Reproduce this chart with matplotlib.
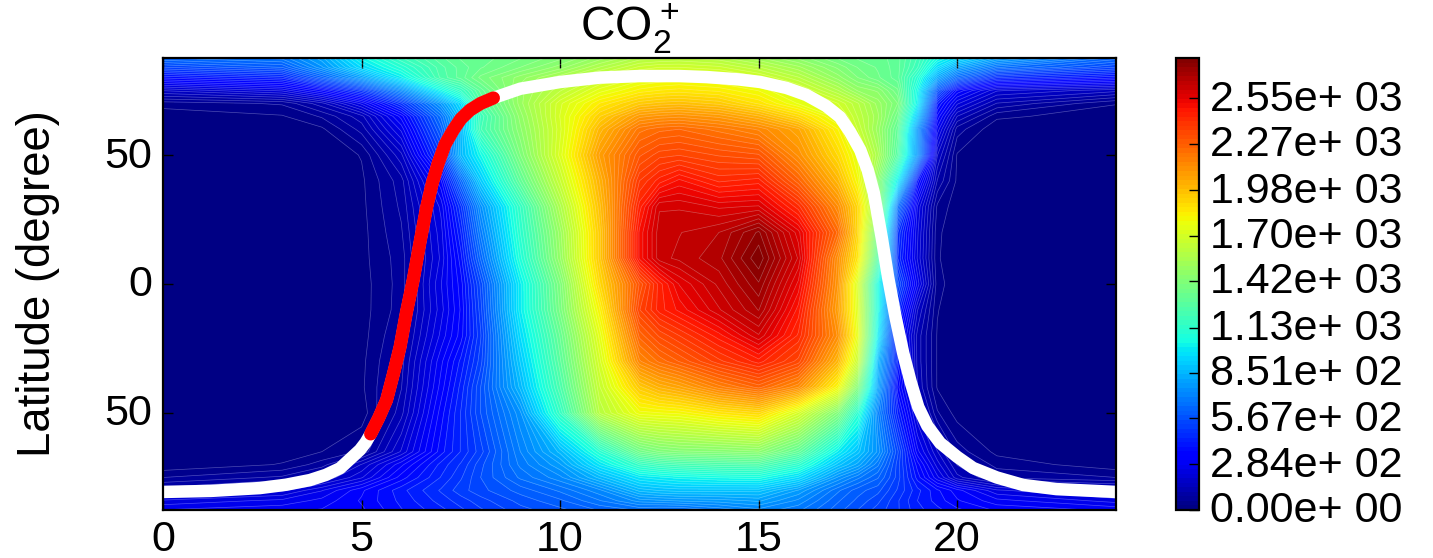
import numpy as np
import matplotlib
matplotlib.use("Agg")
import matplotlib.pyplot as plt
from matplotlib.transforms import ScaledTranslation

plt.rcParams['font.family'] = ['Liberation Sans', 'DejaVu Sans']
plt.rcParams['mathtext.fontset'] = 'custom'
plt.rcParams['mathtext.rm'] = 'Liberation Sans'
plt.rcParams['mathtext.default'] = 'regular'

hours = [0,3,4,5,6,7,7.5,8,9,10,11,12,12.5,13,14,15,16,17,17.5,18,18.5,19,19.5,20,21,24]
lats = [-87.5,-84,-80,-75,-70,-65,-50,-40,-30,-20,-10,0,10,20,30,40,50,60,65,70,75,80,84,87.5]
density = [
 [280,300,310,330,390,440,470,500,550,580,620,650,640,640,680,720,680,600,560,520,480,430,400,370,330,300],
 [230,260,290,340,400,460,490,520,570,610,670,740,750,760,770,790,720,620,580,540,480,420,380,340,290,240],
 [130,190,250,330,410,480,520,550,600,650,720,850,870,880,880,880,780,650,600,570,500,430,370,320,230,170],
 [56,90,140,220,350,450,500,560,650,720,850,980,1000,1020,1040,1050,950,750,680,620,520,380,260,150,80,56],
 [5,30,70,170,300,430,480,550,680,780,980,1150,1190,1210,1230,1240,1120,880,800,680,520,350,210,110,45,10],
 [5,15,28,60,200,380,450,520,700,850,1100,1350,1400,1420,1430,1450,1300,1000,880,750,540,290,170,70,20,5],
 [0,0,0,10,130,350,450,560,750,1150,1600,1780,1790,1800,1860,1900,1700,1400,1100,700,420,200,60,15,0,0],
 [0,0,0,22,110,320,430,560,850,1230,1650,1950,2020,2060,2170,2250,2130,1800,1400,800,350,140,25,3,0,0],
 [0,0,0,20,100,300,400,520,900,1280,1700,2150,2220,2270,2370,2450,2340,2000,1650,850,420,130,25,0,0,0],
 [0,0,0,16,85,260,350,500,950,1320,1750,2250,2330,2380,2480,2600,2430,2120,1750,1000,350,130,25,3,0,0],
 [0,0,0,15,70,240,340,520,1000,1380,1820,2350,2450,2500,2600,2690,2480,2070,1720,1050,450,170,30,5,0,0],
 [0,0,0,15,68,250,350,540,1000,1400,1900,2300,2450,2550,2640,2740,2540,2100,1700,1050,550,270,40,8,0,0],
 [0,0,0,18,70,230,380,620,1080,1480,1950,2500,2620,2640,2680,2795,2600,2120,1850,1250,450,220,32,5,0,0],
 [0,0,0,18,80,240,420,680,1120,1500,1950,2500,2620,2630,2660,2750,2560,2230,1900,1350,480,230,35,5,0,0],
 [0,0,0,20,90,260,470,740,1150,1560,1980,2450,2600,2600,2570,2580,2420,2130,1900,1500,650,250,50,10,0,0],
 [0,0,0,22,100,330,620,900,1300,1650,2020,2380,2450,2500,2430,2450,2250,2000,1800,1450,1000,380,110,22,0,0],
 [0,0,5,30,160,500,850,1030,1400,1720,2080,2290,2340,2350,2320,2300,2120,1900,1750,1550,1250,750,170,25,0,0],
 [0,5,22,95,260,600,850,1200,1450,1700,2000,2200,2230,2240,2200,2150,2050,1820,1650,1500,1300,750,270,70,5,0],
 [10,25,60,130,320,650,880,1180,1470,1710,1930,2090,2110,2120,2090,2020,1900,1740,1620,1520,1350,880,330,140,35,10],
 [40,60,130,260,470,760,950,1250,1500,1700,1850,1950,1970,1980,1950,1870,1760,1680,1600,1500,1400,1000,400,230,110,30],
 [170,230,330,480,720,1020,1150,1300,1500,1620,1750,1830,1850,1860,1840,1790,1700,1570,1480,1450,1350,1030,560,330,200,150],
 [370,430,600,780,1000,1240,1300,1380,1470,1560,1660,1740,1760,1770,1750,1690,1600,1470,1400,1350,1300,1100,800,620,450,370],
 [530,590,750,950,1100,1250,1300,1340,1400,1470,1570,1660,1680,1680,1660,1600,1520,1420,1370,1340,1300,1180,950,800,650,530],
 [640,680,800,1020,1170,1280,1320,1330,1370,1420,1500,1580,1590,1600,1580,1520,1450,1370,1340,1330,1300,1200,1050,950,800,630],
]
term_hour = [0,1.2,2.44,3.1,3.7,4.1,4.46,4.7,4.96,5.1,5.23,5.43,5.63,5.8,5.97,6.13,6.3,6.47,6.64,6.78,6.93,7.1,7.31,7.5,7.73,8.0,8.32,9,10,11,12,13,13.7,14.5,15.04,15.7,16.2,16.7,17.05,17.3,17.56,17.75,17.9,18.1,18.26,18.45,18.64,18.83,19.02,19.25,19.57,20,20.4,21,21.66,22.5,24]
term_lat = [-80.6,-80.2,-79.1,-77.8,-76,-74,-71.4,-68,-64.3,-61.5,-58.1,-52,-45,-35,-24.4,-11,1.5,16,29.8,39,46.8,54,59.7,64,67.4,70,72.1,75.7,78.3,80,80.6,80.6,80.2,79.3,78.3,76,73.3,69,64.7,59,51.9,44,35.3,18,2.7,-13,-26.7,-38,-47.7,-55,-61.6,-67,-71.3,-75,-77.9,-79.5,-80.6]
red_hour = term_hour[10:27]
red_lat = term_lat[10:27]
cbar_ticks = [0,283.6,567,851,1130,1420,1700,1980,2270,2550]
cbar_labels = ['0.00e+ 00','2.84e+ 02','5.67e+ 02','8.51e+ 02','1.13e+ 03','1.42e+ 03','1.70e+ 03','1.98e+ 03','2.27e+ 03','2.55e+ 03']
xticks = [0,5,10,15,20]
yticks = [-50,0,50]
ylabels = ['50','0','50']

W, H = 1433, 558
fig = plt.figure(figsize=(W/100, H/100), dpi=100)
ax = fig.add_axes([163/W, 1-510/H, (1116-163)/W, (510-58)/H])
cax = fig.add_axes([1176/W, 1-510/H, 23/W, (510-58)/H])

levels = np.linspace(0, 2800, 101)
z = np.array(density, float)
cs = ax.contourf(hours, lats, z, levels=levels, cmap='jet')
ax.contour(hours, lats, z, levels=levels[1:], colors='white', linewidths=0.5, alpha=0.3)
ax.plot(term_hour, term_lat, color='white', lw=9, solid_capstyle='butt', solid_joinstyle='round')
ax.plot(red_hour, red_lat, color='red', lw=9.5, solid_capstyle='round', solid_joinstyle='round')
ax.set_xlim(0, 24)
ax.set_ylim(-87.6, 87.6)
ax.set_xticks(xticks)
ax.set_yticks(yticks)
ax.set_yticklabels(ylabels)
ax.tick_params(direction='in', length=7, width=1, labelsize=31, top=True, right=True)
ax.tick_params(axis='x', pad=7)
ax.tick_params(axis='y', pad=8)
ax.set_ylabel('Latitude (degree)', fontsize=32.8, va='center')
ax.yaxis.set_label_coords((38-163)/953, 0.5)
ax.set_title('CO$_2^+$', fontsize=34.6, pad=12.5, x=0.4892)
for s in ax.spines.values():
    s.set_linewidth(1.6)

cb = fig.colorbar(cs, cax=cax, ticks=cbar_ticks)
cb.set_ticklabels(cbar_labels)
cb.ax.tick_params(direction='in', length=7, width=1, labelsize=31, pad=8, right=True)
cb.outline.set_linewidth(1.6)

shift = ScaledTranslation(0, 3/100, fig.dpi_scale_trans)
for t in cb.ax.get_yticklabels() + ax.get_yticklabels():
    t.set_transform(t.get_transform() + shift)

fig.savefig('out.png', dpi=100)
